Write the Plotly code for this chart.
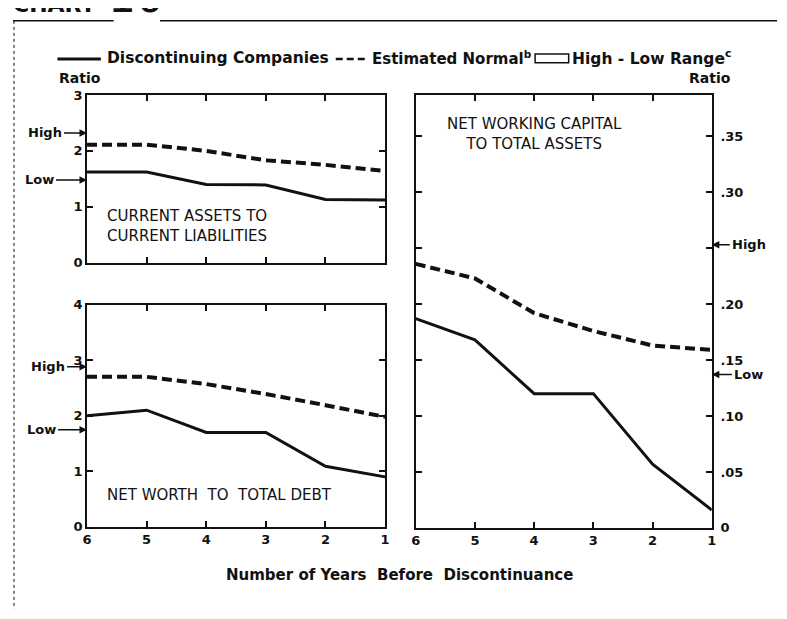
import plotly.graph_objects as go

# page is rendered with an 8px body margin; figure coordinates are offset accordingly
OFF = 8
W, H = 769, 601

# ---------------- data ----------------
years = [6, 5, 4, 3, 2, 1]
year_labels = ["6", "5", "4", "3", "2", "1"]

# Current assets to current liabilities
ca_cl_discont = [1.62, 1.62, 1.40, 1.39, 1.13, 1.12]
ca_cl_normal = [2.11, 2.11, 2.00, 1.83, 1.75, 1.64]
ca_cl_high, ca_cl_low = 2.32, 1.48

# Net worth to total debt
nw_td_discont = [2.00, 2.10, 1.70, 1.70, 1.09, 0.90]
nw_td_normal = [2.70, 2.70, 2.57, 2.39, 2.19, 1.98]
nw_td_high, nw_td_low = 2.88, 1.75

# Net working capital to total assets
nwc_ta_discont = [0.187, 0.168, 0.120, 0.120, 0.057, 0.016]
nwc_ta_normal = [0.236, 0.223, 0.192, 0.176, 0.163, 0.159]
nwc_ta_high, nwc_ta_low = 0.253, 0.137

left_top_ticks = [0, 1, 2, 3]
left_bot_ticks = [0, 1, 2, 3, 4]
right_ticks = [0, 0.05, 0.10, 0.15, 0.20, 0.30, 0.35]
right_ticktext = ["0", ".05", ".10", ".15", ".20", ".30", ".35"]
right_unlabelled_ticks = [0.25]

# ---------------- helpers ----------------
def px(x):
    return (x - OFF) / W

def py(y):
    return 1 - (y - OFF) / H

FONT = "DejaVu Sans"
BLACK = "#111111"

fig = go.Figure()

def add_pair(disc, norm, xa, ya):
    fig.add_trace(go.Scatter(x=years, y=norm, mode="lines", xaxis=xa, yaxis=ya,
                             line=dict(color=BLACK, width=4, dash="10px,5px"),
                             showlegend=False, hoverinfo="skip"))
    fig.add_trace(go.Scatter(x=years, y=disc, mode="lines", xaxis=xa, yaxis=ya,
                             line=dict(color=BLACK, width=3),
                             showlegend=False, hoverinfo="skip"))

add_pair(ca_cl_discont, ca_cl_normal, "x", "y")
add_pair(nw_td_discont, nw_td_normal, "x2", "y2")
add_pair(nwc_ta_discont, nwc_ta_normal, "x3", "y3")

tickfont = dict(family=FONT, size=13, color=BLACK, weight="bold")

xcommon = dict(range=[6, 1], tickvals=years, ticktext=year_labels, ticks="inside",
               ticklen=6, tickwidth=1.5, tickcolor=BLACK, mirror="ticks", showline=True,
               linecolor=BLACK, linewidth=2, showgrid=False, zeroline=False,
               tickfont=tickfont, fixedrange=True)
ycommon = dict(ticks="inside", ticklen=6, tickwidth=1.5, tickcolor=BLACK, mirror="ticks",
               showline=True, linecolor=BLACK, linewidth=2, showgrid=False,
               zeroline=False, tickfont=tickfont, fixedrange=True)

left_dom = [px(83), px(385)]
right_dom = [px(416), px(716)]

fig.update_layout(
    width=W, height=H, margin=dict(l=0, r=0, t=0, b=0),
    paper_bgcolor="white", plot_bgcolor="white",
    font=dict(family=FONT, color=BLACK),
    xaxis=dict(xcommon, domain=left_dom, anchor="y", showticklabels=False),
    yaxis=dict(ycommon, domain=[py(262), py(90)], range=[0, 3], tickvals=left_top_ticks,
               anchor="x", side="left"),
    xaxis2=dict(xcommon, domain=left_dom, anchor="y2"),
    yaxis2=dict(ycommon, domain=[py(533), py(305)], range=[0, 4], tickvals=left_bot_ticks,
                anchor="x2", side="left"),
    xaxis3=dict(xcommon, domain=right_dom, anchor="y3"),
    yaxis3=dict(ycommon, domain=[py(534), py(90)], range=[0, 0.387], tickvals=right_ticks,
                ticktext=right_ticktext, anchor="x3", side="right", ticklabelstandoff=4,
                minor=dict(tickvals=right_unlabelled_ticks, ticks="inside", ticklen=6,
                           tickwidth=1.5, tickcolor=BLACK, showgrid=False)),
)

ann = []

def text(x, y, s, size=14, xanchor="left", yanchor="middle", weight="normal", align="left"):
    ann.append(dict(x=px(x), y=py(y), xref="paper", yref="paper", text=s, showarrow=False,
                    xanchor=xanchor, yanchor=yanchor, align=align,
                    font=dict(family=FONT, size=size, color=BLACK, weight=weight)))

# legend
text(101, 52, "Discontinuing Companies", size=15.5, weight="bold")
text(370, 52, "Estimated Normal<sup>b</sup>", size=15, weight="bold")
text(572, 52, "High - Low Range<sup>c</sup>", size=15.5, weight="bold")
text(53, 73, "Ratio", size=14, weight="bold")
text(737, 73, "Ratio", size=14, weight="bold", xanchor="right")

# panel titles
text(101, 224, "CURRENT ASSETS TO<br>CURRENT LIABILITIES", size=15)
text(101, 500, "NET WORTH  TO  TOTAL DEBT", size=15)
text(536, 130, "NET WORKING CAPITAL<br>TO TOTAL ASSETS", size=15, xanchor="center", align="center")

# axis title
text(400, 582, "Number of Years  Before  Discontinuance", size=15, xanchor="center", weight="bold")

# chart header (cut off at top of the page)
text(6, 12, "CHART", size=22, yanchor="bottom", weight="bold")
ann.append(dict(x=px(133), y=py(17), xref="paper", yref="paper", text="10", showarrow=False,
                xanchor="center", yanchor="bottom",
                font=dict(family=FONT, size=44, color=BLACK)))

# high / low arrows
def arrow(xref, yref, xval, yval, label, dx):
    ann.append(dict(x=xval, y=yval, xref=xref, yref=yref, text=label, showarrow=True,
                    ax=dx, ay=0, axref="pixel", ayref="pixel",
                    xanchor="right" if dx < 0 else "left", yanchor="middle",
                    arrowhead=2, arrowsize=1, arrowwidth=1.5, arrowcolor=BLACK, standoff=0,
                    font=dict(family=FONT, size=13, color=BLACK, weight="bold")))

arrow("x", "y", 6, ca_cl_high, "High", -23)
arrow("x", "y", 6, ca_cl_low, "Low", -31)
arrow("x2", "y2", 6, nw_td_high, "High", -20)
arrow("x2", "y2", 6, nw_td_low, "Low", -29)
arrow("x3", "y3", 1, nwc_ta_high, "High", 18)
arrow("x3", "y3", 1, nwc_ta_low, "Low", 20)

fig.update_layout(annotations=ann)

# legend symbols and page frame
shapes = [
    dict(type="line", xref="paper", yref="paper", x0=px(53), x1=px(97), y0=py(53), y1=py(53),
         line=dict(color=BLACK, width=3)),
    dict(type="line", xref="paper", yref="paper", x0=px(335), x1=px(367), y0=py(53), y1=py(53),
         line=dict(color=BLACK, width=2.5, dash="7px,4px")),
    dict(type="rect", xref="paper", yref="paper", x0=px(537), x1=px(571), y0=py(57), y1=py(48),
         line=dict(color=BLACK, width=1.5)),
    dict(type="line", xref="paper", yref="paper", x0=px(8), x1=px(110), y0=py(14), y1=py(14),
         line=dict(color=BLACK, width=1.5)),
    dict(type="line", xref="paper", yref="paper", x0=px(157), x1=px(787), y0=py(14), y1=py(14),
         line=dict(color=BLACK, width=1.5)),
    dict(type="line", xref="paper", yref="paper", x0=px(9), x1=px(9), y0=py(14), y1=py(619),
         line=dict(color=BLACK, width=1, dash="dot")),
]
fig.update_layout(shapes=shapes)

fig.write_html("out.html")
